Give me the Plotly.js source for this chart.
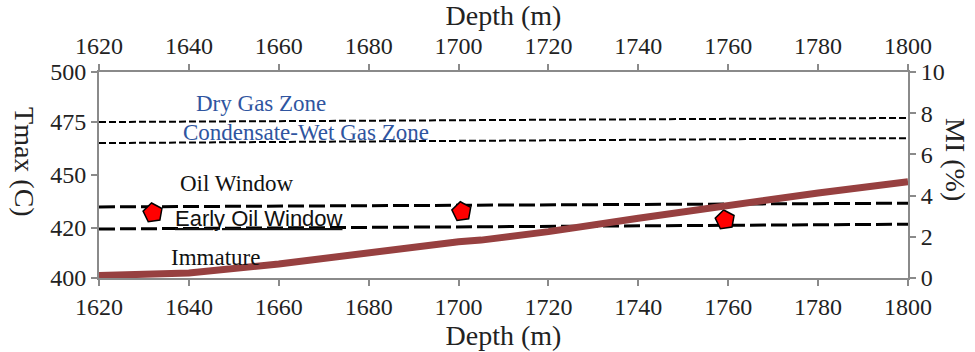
<!DOCTYPE html>
<html>
<head>
<meta charset="utf-8">
<script src="https://cdn.plot.ly/plotly-3.0.1.min.js"></script>
<style>html,body{margin:0;padding:0;background:#fff;}#chart{width:975px;height:352px;}</style>
</head>
<body>
<div id="chart"></div>
<script>
// MI (%) curve vs depth
const miDepth = [1620, 1640, 1660, 1680, 1700, 1705, 1720, 1740, 1760, 1780, 1800];
const miValue = [0.12, 0.24, 0.68, 1.26, 1.76, 1.84, 2.25, 2.9, 3.54, 4.13, 4.67];

// Tmax samples
const tmaxDepth = [1632, 1700.7, 1759.3];
const tmaxValue = [431.6, 432.2, 428.2];

// Zone boundary lines (Tmax, at 1620 and 1800)
const lineDepth = [1620, 1800];
const dryGasLine = [475.7, 477.7];
const condensateLine = [465.5, 467.9];
const oilWindowLine = [434.5, 436.3];
const earlyOilLine = [423.8, 426.1];

// Axis ticks
const depthTicks = [1620, 1640, 1660, 1680, 1700, 1720, 1740, 1760, 1780, 1800];
const tmaxTickPos = [400, 424.3, 450, 475.7, 500];
const tmaxTickText = ["400", "420", "450", "475", "500"];
const miTicks = [0, 2, 4, 6, 8, 10];

// Zone labels
const zoneLabels = ["Dry Gas Zone", "Condensate-Wet Gas Zone", "Oil Window", "<u>Early Oil Window</u>", "Immature"];
const zoneLabelDepth = [1656, 1666, 1650.5, 1655.5, 1646];
const zoneLabelTmax = [484.5, 470.5, 446, 429, 410];

const serif = "Liberation Serif, Times New Roman, serif";
const axisGray = "#8a8a8a";

const traces = [
  {x: lineDepth, y: dryGasLine, mode: "lines", line: {color: "#000", width: 2, dash: "7px,3px"}, xaxis: "x", yaxis: "y", hoverinfo: "skip"},
  {x: lineDepth, y: condensateLine, mode: "lines", line: {color: "#000", width: 2, dash: "7px,3px"}, xaxis: "x", yaxis: "y", hoverinfo: "skip"},
  {x: lineDepth, y: oilWindowLine, mode: "lines", line: {color: "#000", width: 3, dash: "16px,5px"}, xaxis: "x", yaxis: "y", hoverinfo: "skip"},
  {x: lineDepth, y: earlyOilLine, mode: "lines", line: {color: "#000", width: 3, dash: "16px,5px"}, xaxis: "x", yaxis: "y", hoverinfo: "skip"},
  {x: miDepth, y: miValue, mode: "lines", line: {color: "#974040", width: 7}, xaxis: "x", yaxis: "y2"},
  {x: tmaxDepth, y: tmaxValue, mode: "markers", marker: {symbol: "pentagon", size: 20, angle: -80, color: "#ff0000", line: {color: "#000", width: 1.5}}, xaxis: "x", yaxis: "y"},
  {x: [1620, 1800], y: [null, null], mode: "lines", xaxis: "x2", yaxis: "y", hoverinfo: "skip"}
];

const annotations = zoneLabels.map((t, i) => ({
  x: zoneLabelDepth[i], y: zoneLabelTmax[i], xref: "x", yref: "y", text: t, showarrow: false,
  font: {
    family: i === 3 ? "Liberation Sans, Arial, sans-serif" : serif,
    size: i === 3 ? 22 : 23,
    color: i < 2 ? "#2f55a0" : "#111"
  }
}));

const titleFont = {family: serif, size: 28, color: "#222"};
annotations.push({xref: "paper", yref: "paper", x: -0.0915, y: 0.563, xanchor: "center", yanchor: "middle", text: "Tmax (C)", textangle: 90, showarrow: false, font: titleFont});
annotations.push({xref: "paper", yref: "paper", x: 1.058, y: 0.573, xanchor: "center", yanchor: "middle", text: "MI (%)", textangle: 90, showarrow: false, font: titleFont});

const tickFont = {family: serif, size: 24, color: "#222"};
const layout = {
  width: 975, height: 352,
  margin: {l: 99, r: 67, t: 72, b: 74},
  paper_bgcolor: "#fff", plot_bgcolor: "#fff",
  showlegend: false,
  xaxis: {
    range: [1620, 1800], tickvals: depthTicks, ticks: "outside", ticklen: 6, tickwidth: 2, tickcolor: axisGray,
    showline: true, linecolor: axisGray, linewidth: 2, showgrid: false, zeroline: false,
    tickfont: tickFont,
    title: {text: "Depth (m)", font: titleFont, standoff: 4}
  },
  xaxis2: {
    range: [1620, 1800], tickvals: depthTicks, overlaying: "x", side: "top", anchor: "y",
    ticks: "outside", ticklen: 6, tickwidth: 2, tickcolor: axisGray,
    showline: true, linecolor: axisGray, linewidth: 2, showgrid: false, zeroline: false,
    tickfont: tickFont,
    title: {text: "Depth (m)", font: titleFont, standoff: 2}
  },
  yaxis: {
    range: [400, 500], tickvals: tmaxTickPos, ticktext: tmaxTickText,
    ticks: "outside", ticklen: 6, tickwidth: 2, tickcolor: axisGray,
    showline: true, linecolor: axisGray, linewidth: 2, showgrid: false, zeroline: false,
    tickfont: tickFont
  },
  yaxis2: {
    range: [0, 10], tickvals: miTicks, overlaying: "y", side: "right", anchor: "x",
    ticks: "outside", ticklen: 6, tickwidth: 2, tickcolor: axisGray,
    showline: true, linecolor: axisGray, linewidth: 2, showgrid: false, zeroline: false,
    tickfont: tickFont
  },
  annotations: annotations
};

Plotly.newPlot("chart", traces, layout, {displayModeBar: false, staticPlot: true});
</script>
</body>
</html>
